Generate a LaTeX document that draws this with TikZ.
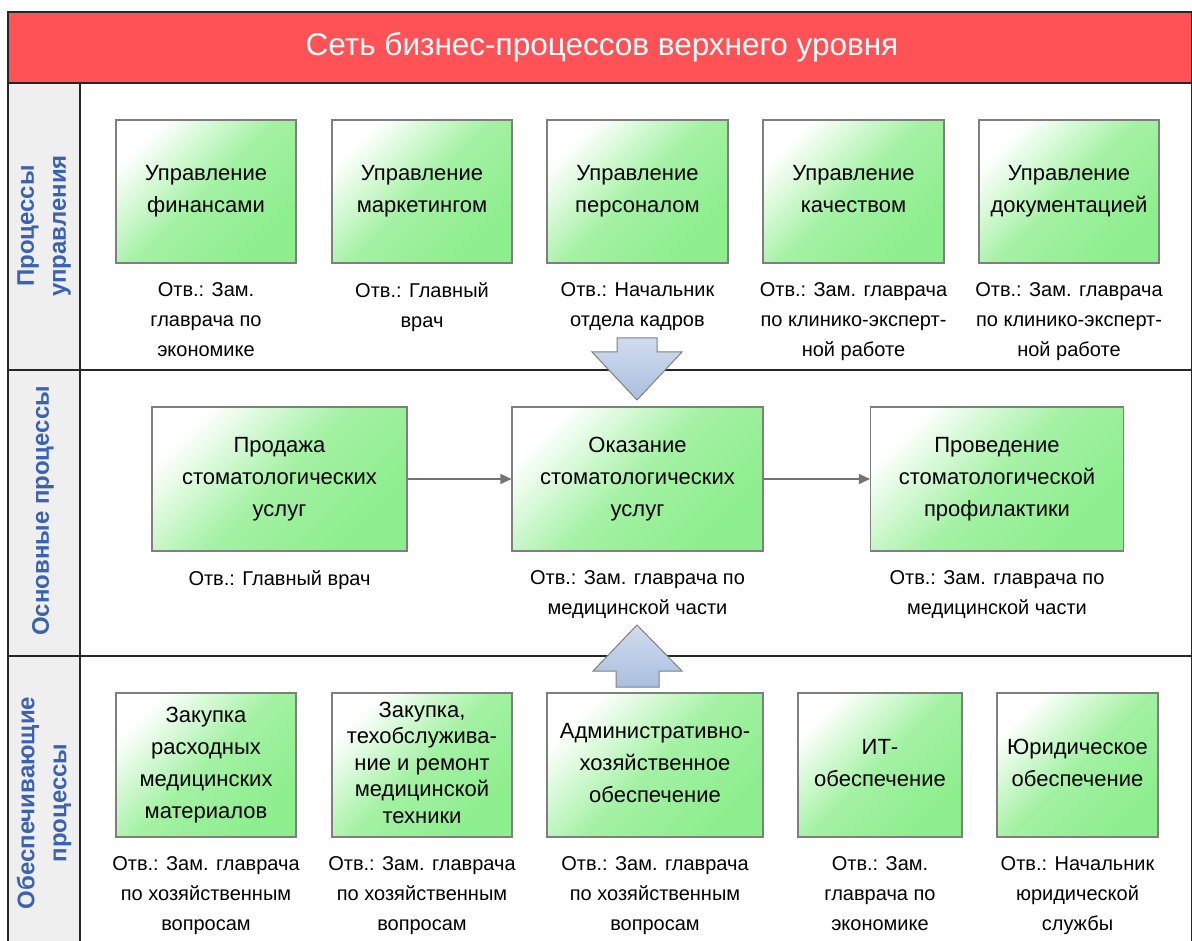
\documentclass[tikz,border=0pt]{standalone}
\usepackage{fontspec}
\setmainfont{Liberation Sans}
\usetikzlibrary{positioning,arrows.meta}
\definecolor{titlered}{HTML}{FF5257}
\definecolor{lanegray}{HTML}{EFEFEF}
\definecolor{lanetext}{HTML}{3A62B2}
\definecolor{boxgreen}{HTML}{8CEE8C}
\definecolor{boxedge}{HTML}{7F7F7F}
\definecolor{bigarrow}{HTML}{A9BFDF}
\tikzset{
  proc/.style={draw=boxedge, line width=1.2pt, left color=white, right color=boxgreen,
    middle color=boxgreen!80!white, shading angle=45, minimum height=144pt,
    align=center, inner sep=0pt, font=\fontsize{22}{32}\selectfont,
    execute at begin node=\rule{0pt}{16pt}, execute at end node=\rule[-5pt]{0pt}{0pt}},
  resp/.style={align=center, inner sep=0pt, font=\fontsize{20}{30}\selectfont},
  lane/.style={rotate=90, align=center, text=lanetext, font=\bfseries\fontsize{24}{32}\selectfont},
  flow/.style={draw=black!55, line width=1.2pt, -{Triangle[length=11pt,width=10pt]}},
  blockarrow/.style={draw=black!50, line width=1pt, top color=bigarrow!55!white, bottom color=bigarrow}
}
\begin{document}
\begin{tikzpicture}[x=1pt,y=-1pt]
  \useasboundingbox (0,0) rectangle (1192,941);
  \clip (0,0) rectangle (1192,941);
  % frame and lanes
  \fill[white] (0,0) rectangle (1192,941);
  \fill[lanegray] (8,83) rectangle (80,950);
  \draw[black!85, line width=1.6pt] (8,12) rectangle (1192,950);
  \draw[black!85, line width=1.6pt, fill=titlered] (8,12) rectangle (1192,83);
  \node[text=white, font=\fontsize{31.5}{36}\selectfont] (title) at (602,47) {Сеть бизнес-процессов верхнего уровня};
  \draw[black!85, line width=1.6pt] (80,83) -- (80,950);
  \draw[black!85, line width=1.6pt] (8,370) -- (1192,370);
  \draw[black!85, line width=1.6pt] (8,656) -- (1192,656);
  \node[lane] (l1) at (44,226) {Процессы\\управления};
  \node[lane] (l2) at (43,511) {Основные процессы};
  \node[lane] (l3) at (44,803) {Обеспечивающие\\процессы};
  % block arrows between lanes
  \draw[blockarrow] (617,338) -- (657,338) -- (657,352) -- (682,352) -- (637,400) -- (592,352) -- (617,352) -- cycle;
  \draw[blockarrow] (616,687) -- (659,687) -- (659,671) -- (682,671) -- (637,625) -- (593,671) -- (616,671) -- cycle;
  % management
  \node[proc, minimum width=180pt, minimum height=143pt] (fin) at (206,191.5) {Управление\\финансами};
  \node[proc, minimum width=180pt, minimum height=143pt] (mkt) at (422,191.5) {Управление\\маркетингом};
  \node[proc, minimum width=181pt, minimum height=143pt] (hr) at (637.5,191.5) {Управление\\персоналом};
  \node[proc, minimum width=181pt, minimum height=143pt] (qual) at (853.5,191.5) {Управление\\качеством};
  \node[proc, minimum width=180pt, minimum height=143pt] (doc) at (1069,191.5) {Управление\\документацией};
  \node[resp, below=19pt of fin] (fin-r) {Отв.: Зам.\\главрача по\\экономике};
  \node[resp, below=19pt of mkt] (mkt-r) {Отв.: Главный\\врач};
  \node[resp, below=19pt of hr] (hr-r) {Отв.: Начальник\\отдела кадров};
  \node[resp, below=19pt of qual] (qual-r) {Отв.: Зам. главрача\\по клинико-эксперт-\\ной работе};
  \node[resp, below=19pt of doc] (doc-r) {Отв.: Зам. главрача\\по клинико-эксперт-\\ной работе};
  % main
  \node[proc, minimum width=255pt] (sale) at (279.5,479) {Продажа\\стоматологических\\услуг};
  \node[proc, minimum width=251pt] (care) at (637.5,479) {Оказание\\стоматологических\\услуг};
  \node[proc, minimum width=253pt] (prev) at (997,479) {Проведение\\стоматологической\\профилактики};
  \node[resp, below=19pt of sale] (sale-r) {Отв.: Главный врач};
  \node[resp, below=19pt of care] (care-r) {Отв.: Зам. главрача по\\медицинской части};
  \node[resp, below=19pt of prev] (prev-r) {Отв.: Зам. главрача по\\медицинской части};
  \draw[flow] (sale) -- (care);
  \draw[flow] (care) -- (prev);
  % support
  \node[proc, minimum width=180pt] (buy) at (206,765) {Закупка\\расходных\\медицинских\\материалов};
  \node[proc, minimum width=180pt, font=\fontsize{22}{26.5}\selectfont] (tech) at (422,765) {Закупка,\\техобслужива-\\ние и ремонт\\медицинской\\техники};
  \node[proc, minimum width=216pt] (adm) at (655,765) {Административно-\\хозяйственное\\обеспечение};
  \node[proc, minimum width=164pt] (it) at (880,765) {ИТ-\\обеспечение};
  \node[proc, minimum width=161pt] (law) at (1077.5,765) {Юридическое\\обеспечение};
  \node[resp, below=19pt of buy] (buy-r) {Отв.: Зам. главрача\\по хозяйственным\\вопросам};
  \node[resp, below=19pt of tech] (tech-r) {Отв.: Зам. главрача\\по хозяйственным\\вопросам};
  \node[resp, below=19pt of adm] (adm-r) {Отв.: Зам. главрача\\по хозяйственным\\вопросам};
  \node[resp, below=19pt of it] (it-r) {Отв.: Зам.\\главрача по\\экономике};
  \node[resp, below=19pt of law] (law-r) {Отв.: Начальник\\юридической\\службы};
\end{tikzpicture}
\end{document}
